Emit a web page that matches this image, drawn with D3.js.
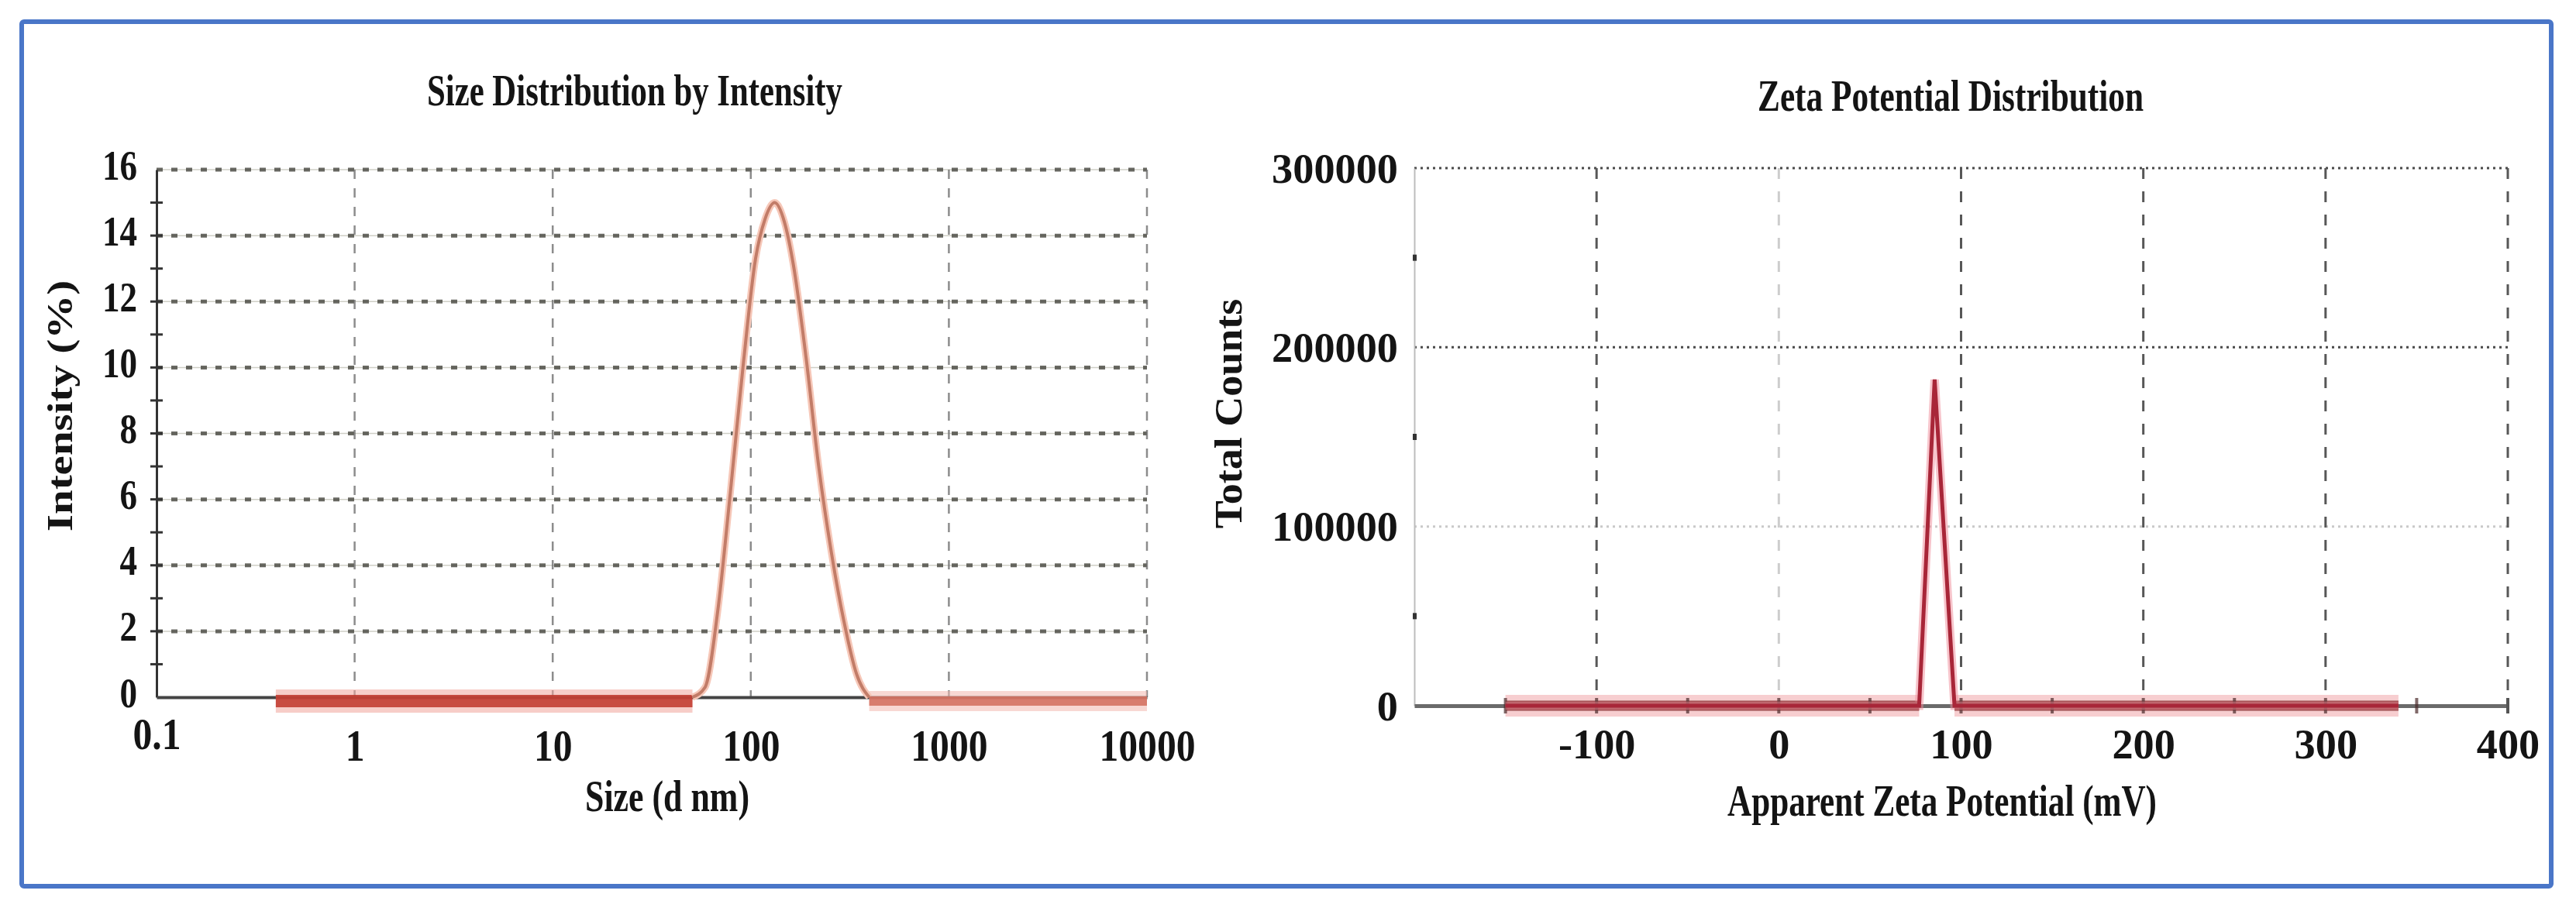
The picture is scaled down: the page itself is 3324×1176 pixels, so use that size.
<!DOCTYPE html>
<html>
<head>
<meta charset="utf-8">
<script src="https://cdn.jsdelivr.net/npm/d3@7/dist/d3.min.js"></script>
<style>
  body { margin: 0; background: #fff; }
  text { font-family: "Liberation Serif", "Times New Roman", serif; font-weight: bold; fill: #141414; }
</style>
</head>
<body>
<div id="chart"></div>
<script>
// size distribution
const sizeNm       = [0.4, 50.75, 58.77, 68.06, 78.82, 91.28, 105.7, 118.0, 132.0, 148.0, 164.2, 190.1, 220.2, 255.0, 295.3, 342.0, 396.1, 10000];
const intensityPct = [0,   0,     0.3,   2.6,   6.2,   10.0,  13.3,  14.5,  15.0,  14.4,  13.1,  10.3,  7.0,   4.4,   2.3,   0.7,   0,     0];
const sizeTicks = [0.1, 1, 10, 100, 1000, 10000];
const intensityTicks = [0, 2, 4, 6, 8, 10, 12, 14, 16];

// zeta potential
const zetaMv      = [-150, 77, 85.5, 96.4, 340];
const totalCounts = [0,    0,  182000, 0,   0];
const zetaTicks = [-100, 0, 100, 200, 300, 400];
const countTicks = [0, 100000, 200000, 300000];

const width = 3324;
const height = 1176;

const svg = d3.select('#chart')
    .append('svg')
        .attr('width', width)
        .attr('height', height);

svg.append('rect')
    .attr('x', 28).attr('y', 28)
    .attr('width', 3292 - 28).attr('height', 1144 - 28)
    .attr('rx', 3)
    .attr('fill', '#fff')
    .attr('stroke', '#4a76c8')
    .attr('stroke-width', 6);

// squeeze tick text horizontally like the scanned figure
const squeeze = (sel, dx, dy, sx) => sel
    .attr('x', 0).attr('y', 0).attr('dy', null)
    .attr('transform', `translate(${dx},${dy}) scale(${sx},1)`);

/* ---------------- left: size distribution ---------------- */
const xSize = d3.scaleLog().domain([0.1, 10000]).range([202, 1480]);
const yInt = d3.scaleLinear().domain([0, 16]).range([900, 219]);
const left = svg.append('g');

// horizontal grid
const hGrid = left.append('g');
hGrid.selectAll('.faint')
    .data(intensityTicks.slice(1))
    .join('line')
        .attr('x1', xSize(0.1)).attr('x2', xSize(10000))
        .attr('y1', d => yInt(d)).attr('y2', d => yInt(d))
        .attr('stroke', '#cfcfc6').attr('stroke-width', 1.5);
hGrid.selectAll('.dots')
    .data(intensityTicks.slice(1))
    .join('line')
        .attr('x1', xSize(0.1)).attr('x2', xSize(10000))
        .attr('y1', d => yInt(d)).attr('y2', d => yInt(d))
        .attr('stroke', '#45453d').attr('stroke-width', 5)
        .attr('stroke-dasharray', '8,11').attr('stroke-opacity', 0.8);

// vertical grid
left.append('g').selectAll('line')
    .data(sizeTicks.slice(1))
    .join('line')
        .attr('x1', d => xSize(d)).attr('x2', d => xSize(d))
        .attr('y1', yInt(16)).attr('y2', yInt(0))
        .attr('stroke', '#6f6f6f').attr('stroke-width', 2.5)
        .attr('stroke-dasharray', '12,12').attr('stroke-opacity', 0.8);

// y axis with major + minor crosses
const yAxisL = left.append('g')
    .attr('transform', `translate(${xSize(0.1)},0)`)
    .call(d3.axisLeft(yInt).tickValues(intensityTicks).tickSize(0).tickFormat(d => d));
yAxisL.select('.domain').attr('stroke', '#333').attr('stroke-width', 3);
yAxisL.selectAll('.tick text')
    .style('font-size', '55px')
    .call(s => squeeze(s, -25, 12, 0.82));
left.append('g').selectAll('line')
    .data(d3.range(1, 16, 1))
    .join('line')
        .attr('x1', xSize(0.1) - 8).attr('x2', xSize(0.1) + 8)
        .attr('y1', d => yInt(d)).attr('y2', d => yInt(d))
        .attr('stroke', '#333').attr('stroke-width', 3);

// x axis
const xAxisL = left.append('g')
    .attr('transform', `translate(0,${yInt(0)})`)
    .call(d3.axisBottom(xSize).tickValues(sizeTicks).tickSize(0).tickFormat(d => String(d)));
xAxisL.select('.domain').attr('stroke', '#444').attr('stroke-width', 4);
xAxisL.selectAll('.tick text')
    .style('font-size', '57px')
    .call(s => squeeze(s, 0, 82, 0.87))
    .filter(d => d === 0.1)
    .attr('transform', 'translate(0,67) scale(0.87,1)');

// baseline noise bands where the intensity stays at zero
const zeroRuns = (xs, ys) => {
    const runs = [];
    let cur = [];
    xs.forEach((x, i) => {
        if (ys[i] === 0) cur.push([x, 0]);
        else { if (cur.length > 1) runs.push(cur); cur = []; }
    });
    if (cur.length > 1) runs.push(cur);
    return runs;
};
const sizeRuns = zeroRuns(sizeNm, intensityPct);
const bandLine = d3.line().x(d => xSize(d[0])).y(d => yInt(d[1]) + 5);
const bandStyle = [
    {halo: '#f0a49a', core: '#bf3529', w: 16},
    {halo: '#f3b8ae', core: '#d26d5c', w: 12}
];
left.append('g').selectAll('path')
    .data(sizeRuns)
    .join('path')
        .attr('d', bandLine)
        .attr('fill', 'none')
        .attr('stroke', (d, i) => bandStyle[i].halo)
        .attr('stroke-opacity', 0.55)
        .attr('stroke-width', (d, i) => bandStyle[i].w + 14);
left.append('g').selectAll('path')
    .data(sizeRuns)
    .join('path')
        .attr('d', bandLine)
        .attr('fill', 'none')
        .attr('stroke', (d, i) => bandStyle[i].core)
        .attr('stroke-opacity', 0.85)
        .attr('stroke-width', (d, i) => bandStyle[i].w);

// intensity curve (only the peak part, the zero runs are the bands above)
const peakIdx = intensityPct.map((v, i) => i).filter(i => i > 0 && i < intensityPct.length - 1);
const peakStart = peakIdx.find(i => intensityPct[i + 1] > 0);
const peakEnd = peakIdx.filter(i => intensityPct[i - 1] > 0).pop();
const peakX = sizeNm.slice(peakStart, peakEnd + 1);
const peakY = intensityPct.slice(peakStart, peakEnd + 1);
const sizeLine = d3.line()
    .x((d, i) => xSize(peakX[i]))
    .y(d => yInt(d))
    .curve(d3.curveMonotoneX);
left.append('path')
    .datum(peakY)
    .attr('fill', 'none')
    .attr('stroke', '#f6c7b8')
    .attr('stroke-width', 9)
    .attr('d', sizeLine);
left.append('path')
    .datum(peakY)
    .attr('fill', 'none')
    .attr('stroke', '#c27c68')
    .attr('stroke-width', 4)
    .attr('d', sizeLine);

left.append('text')
    .attr('x', 819).attr('y', 136)
    .attr('text-anchor', 'middle')
    .attr('textLength', 536).attr('lengthAdjust', 'spacingAndGlyphs')
    .style('font-size', '58px')
    .text('Size Distribution by Intensity');
left.append('text')
    .attr('x', 861).attr('y', 1047)
    .attr('text-anchor', 'middle')
    .attr('textLength', 212).attr('lengthAdjust', 'spacingAndGlyphs')
    .style('font-size', '57px')
    .text('Size (d nm)');
left.append('text')
    .attr('text-anchor', 'middle')
    .attr('transform', 'translate(93,524) rotate(-90) scale(1,0.82)')
    .style('font-size', '57px')
    .text('Intensity (%)');

/* ---------------- right: zeta potential ---------------- */
const xZeta = d3.scaleLinear().domain([-200, 400]).range([1825, 3236]);
const yCnt = d3.scaleLinear().domain([0, 300000]).range([911, 217]);
const right = svg.append('g');

right.append('g').selectAll('line')
    .data(countTicks.slice(1))
    .join('line')
        .attr('x1', xZeta(-200)).attr('x2', xZeta(400))
        .attr('y1', d => yCnt(d)).attr('y2', d => yCnt(d))
        .attr('stroke', d => d === 100000 ? '#c9c9c9' : '#4a4a4a')
        .attr('stroke-width', 3)
        .attr('stroke-dasharray', '3,5');

right.append('g').selectAll('line')
    .data(zetaTicks)
    .join('line')
        .attr('x1', d => xZeta(d)).attr('x2', d => xZeta(d))
        .attr('y1', yCnt(300000)).attr('y2', yCnt(0))
        .attr('stroke', d => d === 0 ? '#cdcdcd' : '#575757')
        .attr('stroke-width', 3)
        .attr('stroke-dasharray', '14,16');

const yAxisR = right.append('g')
    .attr('transform', `translate(${xZeta(-200)},0)`)
    .call(d3.axisLeft(yCnt).tickValues(countTicks).tickSize(0).tickFormat(d => String(d)));
yAxisR.select('.domain').attr('stroke', '#bdbdbd').attr('stroke-width', 2);
yAxisR.selectAll('.tick text')
    .style('font-size', '56px')
    .call(s => squeeze(s, -21, 18, 0.97));
right.append('g').selectAll('rect')
    .data([50000, 150000, 250000])
    .join('rect')
        .attr('x', xZeta(-200) - 2).attr('width', 5)
        .attr('y', d => yCnt(d) - 4).attr('height', 8)
        .attr('fill', '#333');

const xAxisR = right.append('g')
    .attr('transform', `translate(0,${yCnt(0)})`)
    .call(d3.axisBottom(xZeta).tickValues(zetaTicks).tickSize(0).tickFormat(d => String(d)));
xAxisR.select('.domain').attr('stroke', '#6a6a6a').attr('stroke-width', 5);
xAxisR.selectAll('.tick text')
    .style('font-size', '56px')
    .call(s => squeeze(s, 0, 68, 0.97));
right.append('line')
    .attr('x1', xZeta(400)).attr('x2', xZeta(400))
    .attr('y1', yCnt(0) - 10).attr('y2', yCnt(0) + 10)
    .attr('stroke', '#555').attr('stroke-width', 4);

// baseline band then peak
const zetaRuns = zeroRuns(zetaMv, totalCounts);
const zBand = d3.line().x(d => xZeta(d[0])).y(d => yCnt(d[1]));
right.append('g').selectAll('path')
    .data(zetaRuns)
    .join('path')
        .attr('d', zBand)
        .attr('fill', 'none')
        .attr('stroke', '#f2aeb0').attr('stroke-opacity', 0.6)
        .attr('stroke-width', 28);
right.append('g').selectAll('path')
    .data(zetaRuns)
    .join('path')
        .attr('d', zBand)
        .attr('fill', 'none')
        .attr('stroke', '#8f4242')
        .attr('stroke-width', 13);
right.append('g').selectAll('rect')
    .data([-150, -100, -50, 0, 50, 100, 150, 200, 250, 300, 350])
    .join('rect')
        .attr('x', d => xZeta(d) - 2).attr('width', 4)
        .attr('y', yCnt(0) - 10).attr('height', 20)
        .attr('fill', '#4a2a2a').attr('opacity', 0.7);

const zetaLine = d3.line()
    .x((d, i) => xZeta(zetaMv[i]))
    .y(d => yCnt(d));
right.append('path')
    .datum(totalCounts)
    .attr('fill', 'none')
    .attr('stroke', '#f08a98').attr('stroke-opacity', 0.5)
    .attr('stroke-width', 11)
    .attr('d', zetaLine);
right.append('path')
    .datum(totalCounts)
    .attr('fill', 'none')
    .attr('stroke', '#a82638')
    .attr('stroke-width', 5)
    .attr('stroke-linejoin', 'miter')
    .attr('d', zetaLine);

right.append('text')
    .attr('x', 2517).attr('y', 143)
    .attr('text-anchor', 'middle')
    .attr('textLength', 498).attr('lengthAdjust', 'spacingAndGlyphs')
    .style('font-size', '57px')
    .text('Zeta Potential Distribution');
right.append('text')
    .attr('x', 2506).attr('y', 1053)
    .attr('text-anchor', 'middle')
    .attr('textLength', 554).attr('lengthAdjust', 'spacingAndGlyphs')
    .style('font-size', '57px')
    .text('Apparent Zeta Potential (mV)');
right.append('text')
    .attr('text-anchor', 'middle')
    .attr('transform', 'translate(1602,534) rotate(-90) scale(1,0.95)')
    .style('font-size', '54px')
    .text('Total Counts');
</script>
</body>
</html>
